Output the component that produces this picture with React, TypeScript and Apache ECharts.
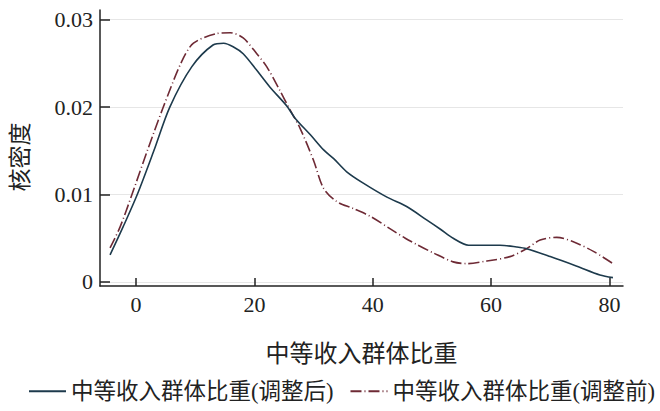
import React, { useEffect, useRef } from "react";
import * as echarts from "echarts";

const afterX = [-4.4, -2.2, 0.2, 3, 5.7, 9.4, 13, 14.8, 16.4, 18.1, 20.4, 22.6, 25.5, 26.9, 29.5, 31.7, 33.4, 35.6, 38.4, 42.4, 45.8, 49.1, 51.5, 53.6, 56.2, 61.5, 64.3, 66, 70, 74.5, 78.4, 80.6];
const afterY = [0.0031, 0.0063, 0.0100, 0.0150, 0.0200, 0.0246, 0.0271, 0.0273, 0.0269, 0.0261, 0.0242, 0.0223, 0.0201, 0.0187, 0.0168, 0.0151, 0.0141, 0.0126, 0.0113, 0.0097, 0.0086, 0.0071, 0.0060, 0.0050, 0.0042, 0.0042, 0.0040, 0.0038, 0.0029, 0.0018, 0.0008, 0.0005];

const beforeX = [-4.4, -2.7, -0.7, 2, 4.6, 7.7, 9.7, 13.6, 15.9, 18.1, 20.4, 22.1, 24.3, 26, 27.7, 30, 31.7, 33.9, 36.7, 39.6, 42.9, 45.5, 47.4, 50.3, 53.6, 55.9, 59.3, 63.2, 66, 68.3, 71.1, 73.9, 77.3, 80.6];
const beforeY = [0.0039, 0.0063, 0.0100, 0.0152, 0.0200, 0.0252, 0.0273, 0.0284, 0.0285, 0.0279, 0.0261, 0.0246, 0.0219, 0.0197, 0.0176, 0.0139, 0.0107, 0.0092, 0.0084, 0.0075, 0.0061, 0.0050, 0.0043, 0.0033, 0.0023, 0.0021, 0.0024, 0.0029, 0.0038, 0.0048, 0.0051, 0.0046, 0.0035, 0.0021];

const xTicks = [0, 20, 40, 60, 80];
const yTicks = [0, 0.01, 0.02, 0.03];
const yTickLabels = ["0", "0.01", "0.02", "0.03"];

const seriesNames = ["中等收入群体比重(调整后)", "中等收入群体比重(调整前)"];
const xName = "中等收入群体比重";
const yName = "核密度";

const FONT = "'Liberation Serif', 'Noto Sans CJK SC', serif";

export default function App() {
  const ref = useRef<HTMLDivElement>(null);
  useEffect(() => {
    if (!ref.current) return;
    const chart = echarts.init(ref.current, null, { renderer: "svg" });
    const zip = (xs: number[], ys: number[]) => xs.map((x, i) => [x, ys[i]]);
    chart.setOption({
      animation: false,
      backgroundColor: "#fff",
      grid: { left: 100, right: 37, top: 10, bottom: 125, containLabel: false },
      xAxis: {
        type: "value",
        min: -6.1,
        max: 82.3,
        name: xName,
        nameLocation: "middle",
        nameGap: 56,
        nameTextStyle: { fontFamily: FONT, fontSize: 24, color: "#222" },
        axisLine: { show: true, onZero: false, lineStyle: { color: "#222", width: 1.5 } },
        axisTick: { show: true, inside: true, length: 8, customValues: xTicks, lineStyle: { color: "#222", width: 1.5 } },
        axisLabel: { customValues: xTicks, margin: 7, fontFamily: FONT, fontSize: 22, color: "#222" },
        splitLine: { show: false },
      },
      yAxis: {
        type: "value",
        min: -0.00046,
        max: 0.0311,
        name: yName,
        nameLocation: "middle",
        nameGap: 68,
        nameRotate: 90,
        nameTextStyle: { fontFamily: FONT, fontSize: 23, color: "#222", padding: [0, 18, 0, 0] },
        axisLine: { show: true, onZero: false, lineStyle: { color: "#222", width: 1.5 } },
        axisTick: { show: true, inside: true, length: 10, customValues: yTicks, lineStyle: { color: "#222", width: 1.5 } },
        axisLabel: {
          customValues: yTicks,
          margin: 7,
          fontFamily: FONT,
          fontSize: 22,
          color: "#222",
          formatter: (v: number) => {
            const i = yTicks.findIndex((t) => Math.abs(t - v) < 1e-9);
            return i >= 0 ? yTickLabels[i] : "";
          },
        },
        splitLine: { show: true, lineStyle: { color: "#e6e6e6", width: 1.2 } },
      },
      legend: {
        data: seriesNames,
        left: 28,
        top: 380,
        padding: 0,
        itemWidth: 37,
        itemHeight: 14,
        itemGap: 16,
        itemStyle: { opacity: 0 },
        textStyle: { fontFamily: FONT, fontSize: 22.5, color: "#222" },
      },
      series: [
        {
          name: seriesNames[0],
          type: "line",
          data: zip(afterX, afterY),
          smooth: 0.3,
          symbol: "none",
          z: 3,
          lineStyle: { color: "#1d3a4c", width: 1.6 },
          itemStyle: { color: "#1d3a4c" },
        },
        {
          name: seriesNames[1],
          type: "line",
          data: zip(beforeX, beforeY),
          smooth: 0.3,
          symbol: "none",
          z: 2,
          lineStyle: { color: "#6e2a35", width: 1.6, type: [11, 3, 1, 3] },
          itemStyle: { color: "#6e2a35" },
        },
      ],
    });
    return () => chart.dispose();
  }, []);
  return <div ref={ref} style={{ position: "fixed", left: 0, top: 0, width: 660, height: 411 }} />;
}
